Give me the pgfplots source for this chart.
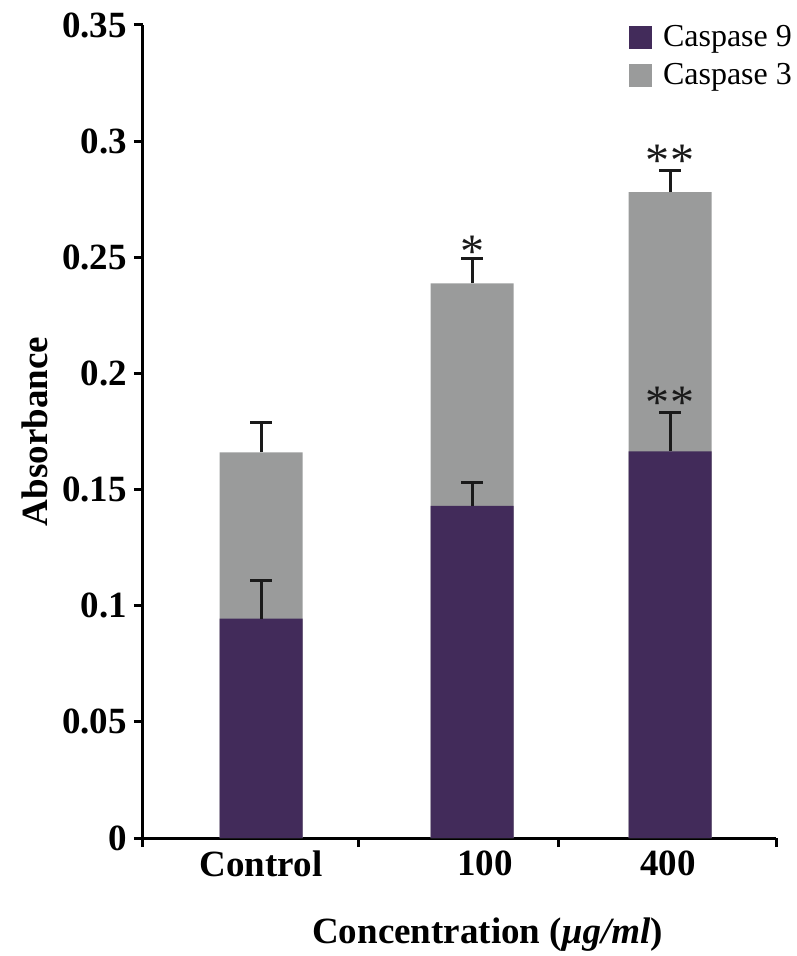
\documentclass[border=0pt]{standalone}
\usepackage{pgfplots}
\pgfplotsset{compat=1.18}
\usepackage{fontspec}
\setmainfont{Liberation Serif}
\definecolor{casp9}{HTML}{422B5A}
\definecolor{casp3}{HTML}{9A9B9B}
\definecolor{errc}{HTML}{1A1A1A}
\begin{document}
\begin{tikzpicture}
\begin{axis}[
  scale only axis, width=316.5pt, height=406.5pt,
  xmin=0, xmax=633, ymin=0, ymax=0.35,
  axis x line*=bottom, axis y line*=left,
  axis line style={line width=1.5pt, -},
  every tick/.style={line width=1.5pt, black},
  tick align=outside,
  major tick length=4.5pt,
  xtick={0,215,415,633}, xticklabels={,,,},
  extra x ticks={118,342,525}, extra x tick labels={Control,100,400},
  extra x tick style={major tick length=0pt},
  ytick={0,0.05,0.1,0.15,0.2,0.25,0.3,0.35},
  scaled y ticks=false,
  /pgf/number format/assume math mode=true,
  yticklabel style={/pgf/number format/fixed, /pgf/number format/precision=2},
  tick label style={font=\fontsize{18.5}{20}\selectfont\bfseries},
  xticklabel style={yshift=-3pt},
  xlabel={Concentration (\textit{μg/ml})},
  ylabel={Absorbance},
  label style={font=\fontsize{18.5}{20}\selectfont\bfseries},
  xlabel style={at={(axis description cs:0.5,0)}, anchor=center, xshift=14pt, yshift=-48.5pt},
  ylabel style={at={(axis description cs:0,0.5)}, anchor=center, yshift=54pt},
  legend style={at={(rel axis cs:0.764,1)}, anchor=north west, yshift=3pt, draw=none, fill=none,
    font=\fontsize{16}{18.5}\selectfont, inner sep=1pt, row sep=3pt},
  legend cell align=left,
  clip=false,
]
\addlegendimage{legend image code/.code={\path[draw=none,fill=none] (0pt,-5.75pt) rectangle (15pt,5.75pt); \fill[casp9,draw=none] (0pt,-5.75pt) rectangle (11.5pt,5.75pt);}}
\addlegendentry{Caspase 9}
\addlegendimage{legend image code/.code={\path[draw=none,fill=none] (0pt,-5.75pt) rectangle (15pt,5.75pt); \fill[casp3,draw=none] (0pt,-5.75pt) rectangle (11.5pt,5.75pt);}}
\addlegendentry{Caspase 3}

% Caspase 3 (behind)
\addplot[ybar, bar width=83, bar shift=0pt, fill=casp3, draw=none, forget plot,
  error bars/.cd, y dir=plus, y explicit,
  error bar style={line width=1.5pt, errc},
  error mark options={line width=1.5pt, draw=errc, mark size=5.5pt, rotate=90}]
  coordinates {(118,0.166) +- (0,0.013) (329,0.2388) +- (0,0.0108) (527,0.278) +- (0,0.0095)};
% Caspase 9 (front)
\addplot[ybar, bar width=83, bar shift=0pt, fill=casp9, draw=none, forget plot,
  error bars/.cd, y dir=plus, y explicit,
  error bar style={line width=1.5pt, errc},
  error mark options={line width=1.5pt, draw=errc, mark size=5.5pt, rotate=90}]
  coordinates {(118,0.0944) +- (0,0.0166) (329,0.143) +- (0,0.010) (527,0.1664) +- (0,0.0166)};
% significance marks
\addplot[draw=none, mark=none, forget plot, nodes near coords, point meta=explicit symbolic,
  nodes near coords style={anchor=center, font=\fontsize{24}{24}\selectfont, text=errc, inner sep=0pt}]
  coordinates {(329,0.2525)[*] (527,0.2915)[*\kern0.5pt*] (527,0.1872)[*\kern0.5pt*]};
\end{axis}
\pgfresetboundingbox
\path[use as bounding box] ([xshift=-71.5pt,yshift=-59pt]current axis.south west) rectangle ++(398pt,478pt);
\end{tikzpicture}
\end{document}
